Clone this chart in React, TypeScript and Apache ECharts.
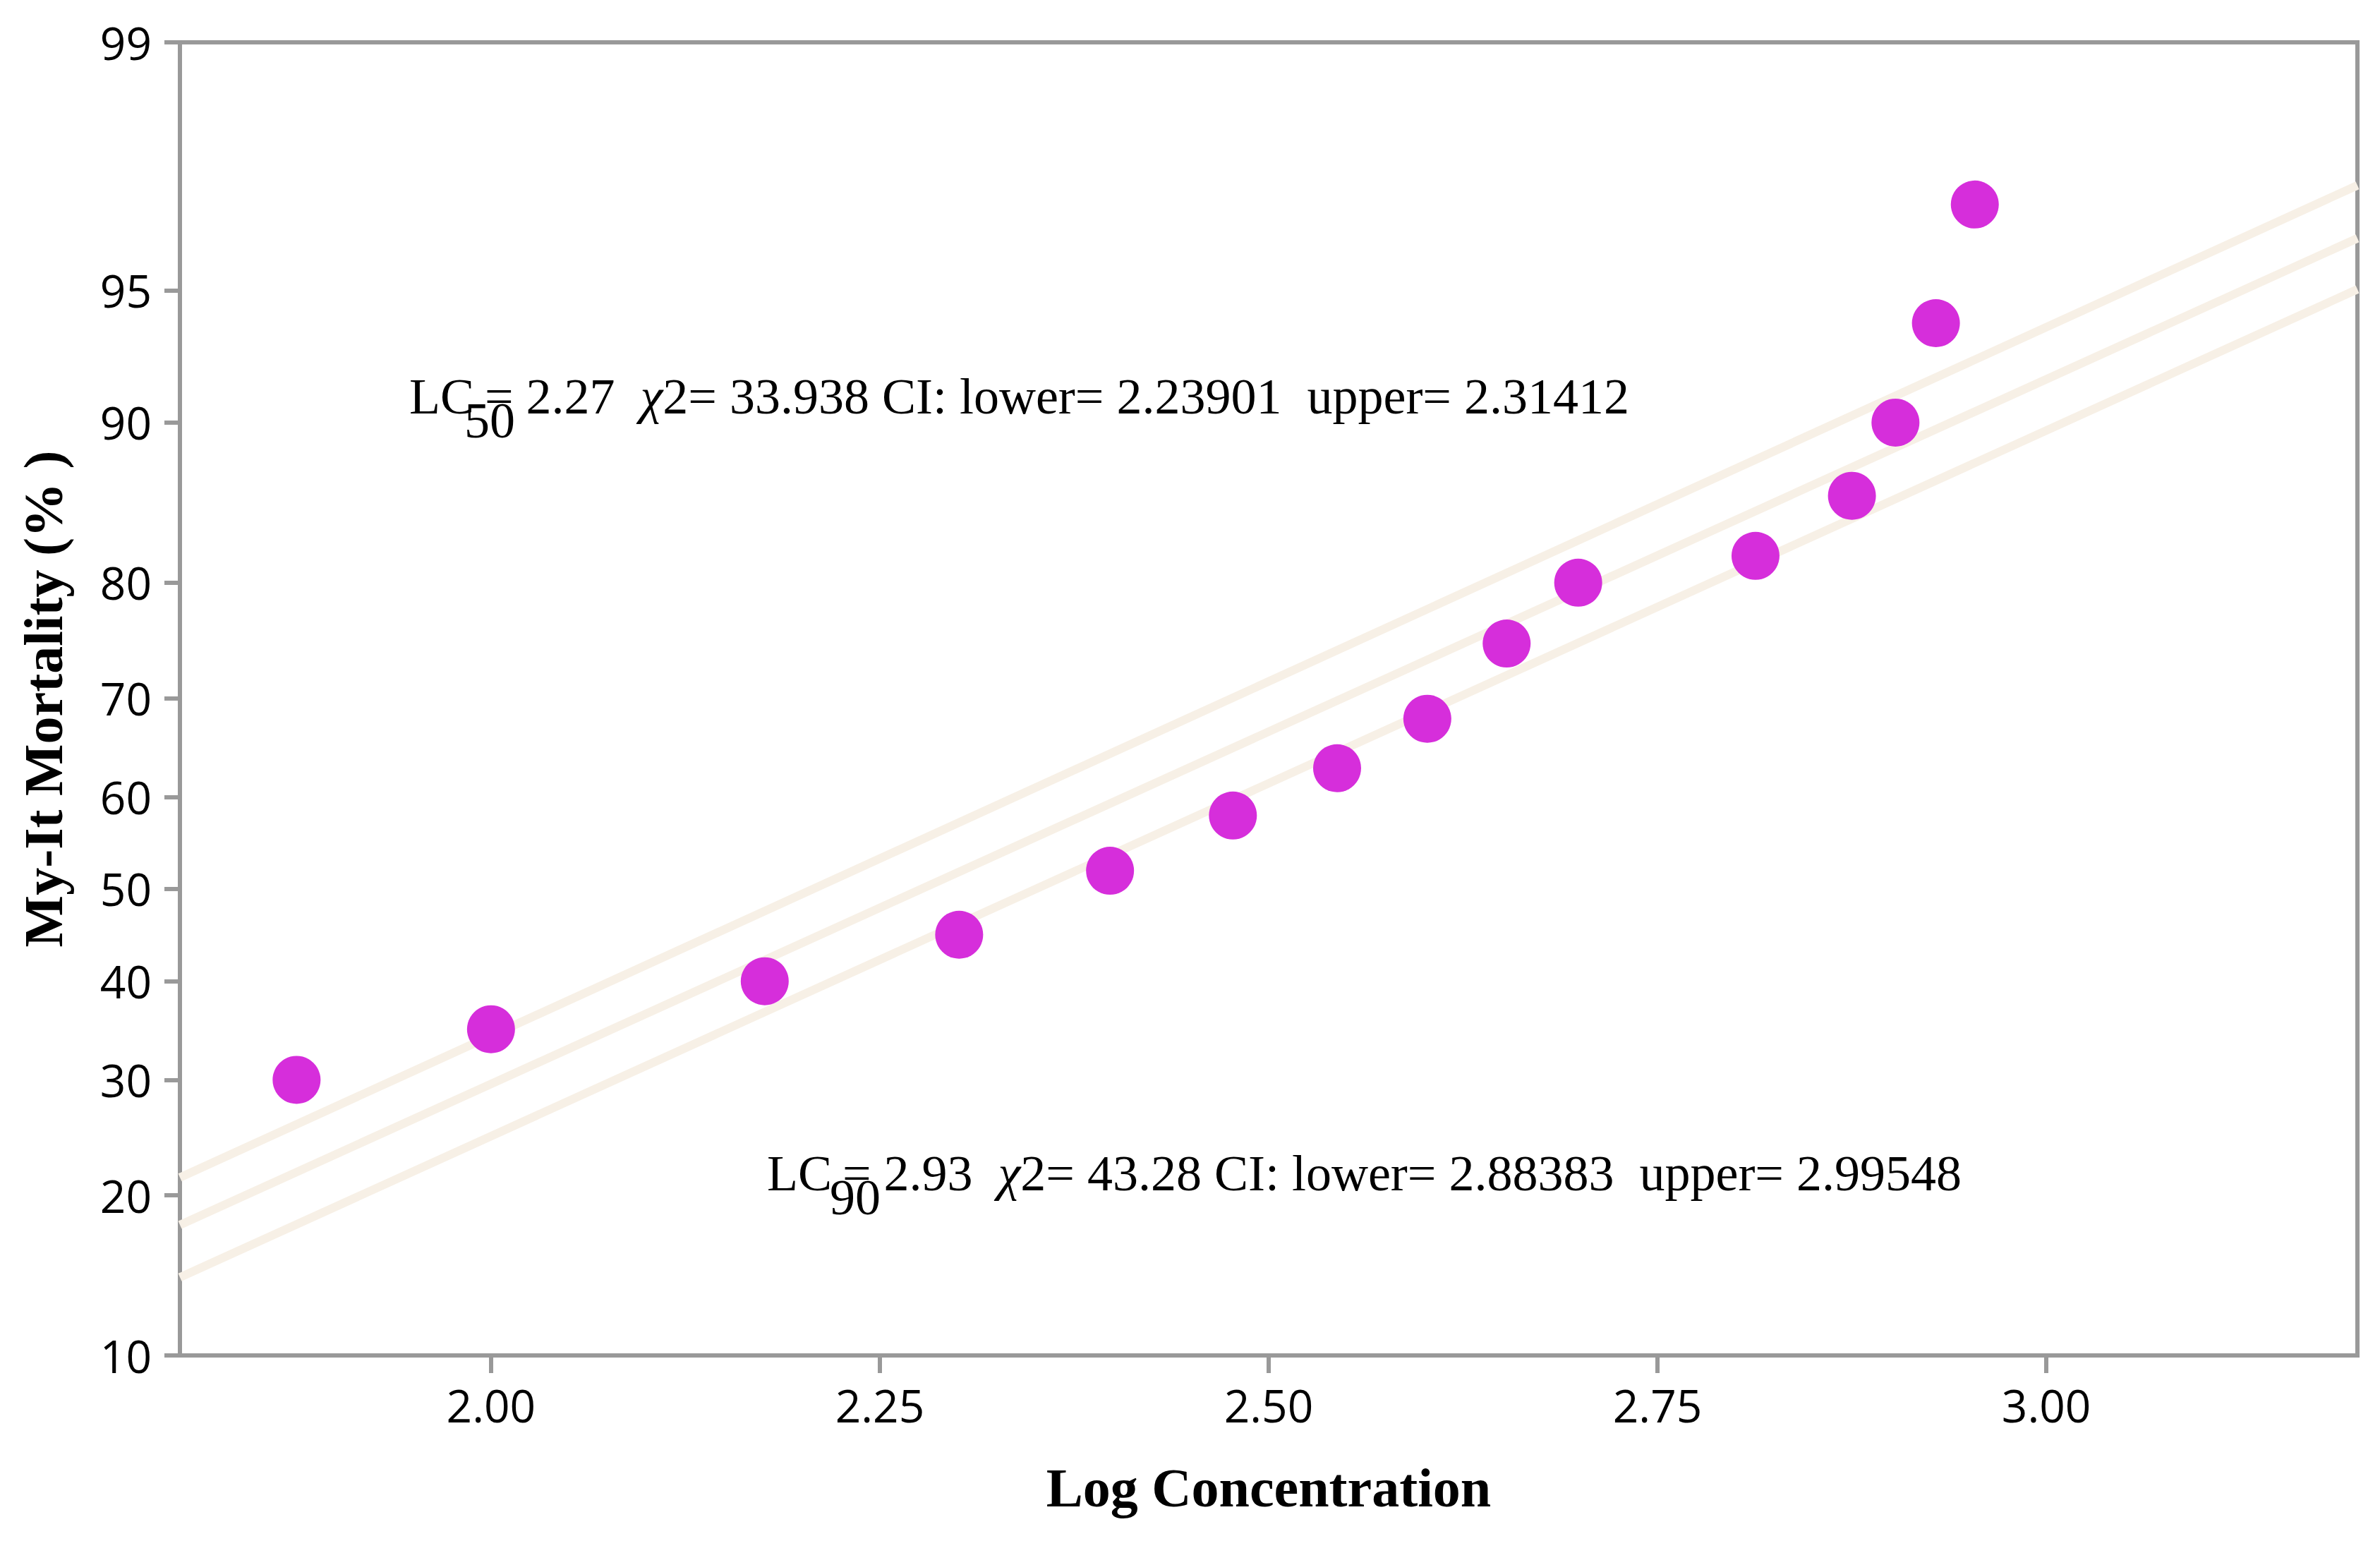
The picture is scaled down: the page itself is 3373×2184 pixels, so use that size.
import React, { useEffect, useRef } from "react";
import * as echarts from "echarts";

// ---- data ----
const xTicks = [2.0, 2.25, 2.5, 2.75, 3.0];
const yTicks = [10, 20, 30, 40, 50, 60, 70, 80, 90, 95, 99];
const xRange = [1.8, 3.2];

const logConc = [1.875, 2.0, 2.176, 2.301, 2.398, 2.477, 2.544, 2.602, 2.653, 2.699, 2.813, 2.875, 2.903, 2.929, 2.954];
const mortality = [30, 35, 40, 45, 52, 58, 63, 68, 75, 80, 82, 86, 90, 94, 97];

const lineX = [1.8, 3.2];
const upperCI = [21.4, 97.34];
const fitLine = [17.8, 96.31];
const lowerCI = [14.3, 95.03];

const annot1 = { sub: "50", rest: "= 2.27  {i|χ}2= 33.938 CI: lower= 2.23901  upper= 2.31412" };
const annot2 = { sub: "90", rest: "= 2.93  {i|χ}2= 43.28 CI: lower= 2.88383  upper= 2.99548" };

// inverse standard normal CDF (probit scale transform)
function probit(p: number): number {
  const a = [-3.969683028665376e1, 2.209460984245205e2, -2.759285104469687e2, 1.38357751867269e2, -3.066479806614716e1, 2.506628277459239];
  const b = [-5.447609879822406e1, 1.615858368580409e2, -1.556989798598866e2, 6.680131188771972e1, -1.328068155288572e1];
  const c = [-7.784894002430293e-3, -3.223964580411365e-1, -2.400758277161838, -2.549732539343734, 4.374664141464968, 2.938163982698783];
  const d = [7.784695709041462e-3, 3.224671290700398e-1, 2.445134137142996, 3.754408661907416];
  const pl = 0.02425;
  let q: number, r: number;
  if (p < pl) {
    q = Math.sqrt(-2 * Math.log(p));
    return (((((c[0] * q + c[1]) * q + c[2]) * q + c[3]) * q + c[4]) * q + c[5]) / ((((d[0] * q + d[1]) * q + d[2]) * q + d[3]) * q + 1);
  } else if (p <= 1 - pl) {
    q = p - 0.5;
    r = q * q;
    return ((((((a[0] * r + a[1]) * r + a[2]) * r + a[3]) * r + a[4]) * r + a[5]) * q) / (((((b[0] * r + b[1]) * r + b[2]) * r + b[3]) * r + b[4]) * r + 1);
  } else {
    q = Math.sqrt(-2 * Math.log(1 - p));
    return -(((((c[0] * q + c[1]) * q + c[2]) * q + c[3]) * q + c[4]) * q + c[5]) / ((((d[0] * q + d[1]) * q + d[2]) * q + d[3]) * q + 1);
  }
}
const pz = (pct: number) => probit(pct / 100);

const W = 3373;
const H = 2184;

export default function App() {
  const ref = useRef<HTMLDivElement>(null);
  useEffect(() => {
    if (!ref.current) return;
    const chart = echarts.init(ref.current, null, { renderer: "svg", width: W, height: H });
    const yTickVals = yTicks.map(pz);
    const gray = "#999999";
    const lineColor = "#f7f0e6";
    const serif = "'Liberation Serif', 'Times New Roman', serif";
    const sans = "'Open Sans', 'Noto Sans', sans-serif";
    const fs = 72;
    const mkLine = (vals: number[]) => ({
      type: "line",
      data: lineX.map((x, i) => [x, pz(vals[i])]),
      symbol: "none",
      lineStyle: { color: lineColor, width: 12 },
      silent: true,
      z: 2,
    });
    const annText = (x: number, yBase: number, subDx: number, a: { sub: string; rest: string }) => [
      {
        type: "text",
        x,
        y: yBase - 24,
        style: { text: "LC", font: `${fs}px ${serif}`, fill: "#000", verticalAlign: "middle", align: "left" },
      },
      {
        type: "text",
        x: x + subDx,
        y: yBase + 34 - 24,
        style: { text: a.sub, font: `${fs}px ${serif}`, fill: "#000", verticalAlign: "middle", align: "left" },
      },
      {
        type: "text",
        x: x + 107,
        y: yBase - 24,
        style: {
          text: a.rest,
          font: `${fs}px ${serif}`,
          fill: "#000",
          verticalAlign: "middle",
          align: "left",
          rich: { i: { fontFamily: serif, fontSize: fs, fontStyle: "italic", color: "#000" } },
        },
      },
    ];
    chart.setOption({
      animation: false,
      backgroundColor: "#ffffff",
      grid: {
        left: 255,
        top: 60,
        width: 3086,
        height: 1861,
        show: true,
        borderColor: gray,
        borderWidth: 6,
        backgroundColor: "transparent",
      },
      xAxis: {
        type: "value",
        min: xRange[0],
        max: xRange[1],
        name: "Log Concentration",
        nameLocation: "middle",
        nameGap: 148,
        nameTextStyle: { fontFamily: serif, fontWeight: "bold", fontSize: 78, color: "#000" },
        axisLine: { show: true, onZero: false, lineStyle: { color: gray, width: 6 } },
        axisTick: { show: true, length: 25, lineStyle: { color: gray, width: 6 }, customValues: xTicks },
        axisLabel: {
          customValues: xTicks,
          formatter: (v: number) => v.toFixed(2),
          fontFamily: sans,
          fontSize: 64,
          fontWeight: 500,
          color: "#000",
          margin: 38,
        },
        splitLine: { show: false },
      },
      yAxis: {
        type: "value",
        min: yTickVals[0],
        max: yTickVals[yTickVals.length - 1],
        name: "My-It Mortality (% )",
        nameLocation: "middle",
        nameGap: 155,
        nameRotate: 90,
        nameTextStyle: { fontFamily: serif, fontWeight: "bold", fontSize: 78, color: "#000" },
        axisLine: { show: true, onZero: false, lineStyle: { color: gray, width: 6 } },
        axisTick: { show: true, length: 22, lineStyle: { color: gray, width: 6 }, customValues: yTickVals },
        axisLabel: {
          customValues: yTickVals,
          formatter: (v: number) => {
            let best = yTicks[0];
            let bd = Infinity;
            yTicks.forEach((t) => {
              const dd = Math.abs(pz(t) - v);
              if (dd < bd) {
                bd = dd;
                best = t;
              }
            });
            return String(best);
          },
          fontFamily: sans,
          fontSize: 64,
          fontWeight: 500,
          color: "#000",
          margin: 40,
        },
        splitLine: { show: false },
      },
      series: [
        mkLine(upperCI),
        mkLine(fitLine),
        mkLine(lowerCI),
        {
          type: "scatter",
          data: logConc.map((x, i) => [x, pz(mortality[i])]),
          symbol: "circle",
          symbolSize: 68,
          itemStyle: { color: "#d62edb", opacity: 1 },
          z: 5,
        },
      ],
      graphic: [...annText(580, 586, 78, annot1), ...annText(1087, 1687, 89, annot2)],
    });
    return () => chart.dispose();
  }, []);
  return <div ref={ref} style={{ position: "fixed", left: 0, top: 0, width: W, height: H }} />;
}
